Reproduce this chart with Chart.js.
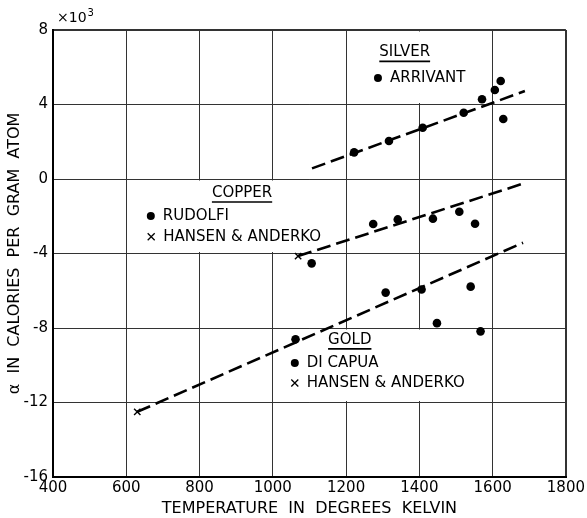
<!DOCTYPE html>
<html>
<head>
<meta charset="utf-8">
<script src="https://cdn.jsdelivr.net/npm/chart.js@4/dist/chart.umd.min.js"></script>
<style>
  html, body { margin: 0; padding: 0; background: #fff; }
  #wrap { width: 587px; height: 518px; }
</style>
</head>
<body>
<div id="wrap"><canvas id="chart" width="587" height="518"></canvas></div>
<script>
// values (alpha in units of 10^3 cal per gram atom)
const silverT = [1222, 1317, 1409, 1521, 1571, 1606, 1622, 1629];
const silverA = [1.43, 2.04, 2.75, 3.56, 4.28, 4.78, 5.26, 3.22];

const copperT = [1106, 1274, 1341, 1437, 1509, 1552];
const copperA = [-4.53, -2.42, -2.17, -2.13, -1.76, -2.40];
const copperHansenT = [1069];
const copperHansenA = [-4.14];

const goldT = [1062, 1308, 1406, 1448, 1540, 1567];
const goldA = [-8.6, -6.1, -5.93, -7.74, -5.78, -8.18];
const goldHansenT = [630];
const goldHansenA = [-12.5];

// dashed fit lines (end points)
const silverFitT = [1107, 1688];
const silverFitA = [0.57, 4.72];
const copperFitT = [1069, 1686];
const copperFitA = [-4.14, -0.23];
const goldFitT = [630, 1683];
const goldFitA = [-12.5, -3.42];

const xTicks = [400, 600, 800, 1000, 1200, 1400, 1600, 1800];
const yTicks = [-16, -12, -8, -4, 0, 4, 8];

const INK = '#000';
const FONT = "'DejaVu Sans', sans-serif";

const pts = (xs, ys) => xs.map((x, i) => ({ x: x, y: ys[i] }));

function dots(xs, ys) {
  return {
    data: pts(xs, ys), showLine: false,
    pointStyle: 'circle', pointRadius: 4.3, pointBackgroundColor: INK,
    pointBorderColor: INK, pointBorderWidth: 0
  };
}
function crosses(xs, ys) {
  return {
    data: pts(xs, ys), showLine: false,
    pointStyle: 'crossRot', pointRadius: 4.5, pointBorderColor: INK,
    pointBorderWidth: 1.4
  };
}
function fit(xs, ys) {
  return {
    data: pts(xs, ys), showLine: true, borderColor: INK, borderWidth: 2.6,
    borderDash: [14, 6], pointRadius: 0, fill: false
  };
}

// white boxes behind the labels, in data units
const boxes = [
  { x0: 1250, x1: 1560, y0: 4, y1: 8 },
  { x0: 615, x1: 1062, y0: -4, y1: 0 },
  { x0: 1085, x1: 1590, y0: -12, y1: -8 }
];

// label blocks: heading + entries
const notes = [
  { head: 'SILVER', hx: 1360, hy: 6.8,
    rows: [{ m: 'dot', x: 1287, y: 5.42, t: 'ARRIVANT' }] },
  { head: 'COPPER', hx: 916, hy: -0.75,
    rows: [{ m: 'dot', x: 667, y: -1.99, t: 'RUDOLFI' },
           { m: 'x', x: 668, y: -3.1, t: 'HANSEN & ANDERKO' }] },
  { head: 'GOLD', hx: 1210, hy: -8.64,
    rows: [{ m: 'dot', x: 1060, y: -9.88, t: 'DI CAPUA' },
           { m: 'x', x: 1060, y: -10.95, t: 'HANSEN & ANDERKO' }] }
];

const notesPlugin = {
  id: 'notes',
  beforeDatasetsDraw(chart) {
    const c = chart.ctx, sx = chart.scales.x, sy = chart.scales.y;
    c.save();
    c.fillStyle = '#fff';
    boxes.forEach(b => {
      const l = sx.getPixelForValue(b.x0), r = sx.getPixelForValue(b.x1);
      const t = sy.getPixelForValue(b.y1) + 1.5, btm = sy.getPixelForValue(b.y0) - 1.5;
      c.fillRect(l, t, r - l, btm - t);
    });
    c.restore();
  },
  afterDatasetsDraw(chart) {
    const c = chart.ctx, sx = chart.scales.x, sy = chart.scales.y;
    c.save();
    c.fillStyle = INK;
    c.strokeStyle = INK;
    c.font = '15px ' + FONT;
    c.textBaseline = 'middle';
    notes.forEach(n => {
      const hx = sx.getPixelForValue(n.hx), hy = sy.getPixelForValue(n.hy);
      c.textAlign = 'center';
      c.fillText(n.head, hx, hy);
      const w = c.measureText(n.head).width;
      c.lineWidth = 1.6;
      c.beginPath();
      c.moveTo(hx - w / 2, hy + 9);
      c.lineTo(hx + w / 2, hy + 9);
      c.stroke();
      c.textAlign = 'left';
      n.rows.forEach(r => {
        const px = sx.getPixelForValue(r.x), py = sy.getPixelForValue(r.y);
        if (r.m === 'dot') {
          c.beginPath();
          c.arc(px, py, 4, 0, Math.PI * 2);
          c.fill();
        } else {
          c.lineWidth = 1.3;
          c.beginPath();
          c.moveTo(px - 3.5, py - 3.5); c.lineTo(px + 3.5, py + 3.5);
          c.moveTo(px + 3.5, py - 3.5); c.lineTo(px - 3.5, py + 3.5);
          c.stroke();
        }
        c.fillText(r.t, px + 12, py);
      });
    });
    // x10^3 multiplier above the y axis
    const ax = chart.chartArea.left + 4, ay = chart.chartArea.top - 12;
    c.font = '14px ' + FONT;
    c.textAlign = 'left';
    c.fillText('\u00d710', ax, ay);
    const w10 = c.measureText('\u00d710').width;
    c.font = '10px ' + FONT;
    c.fillText('3', ax + w10 + 1, ay - 5);
    c.restore();
  }
};

const edge = v => (v === 8 || v === -16 || v === 400 || v === 1800) ? 2 : 1;

new Chart(document.getElementById('chart').getContext('2d'), {
  type: 'scatter',
  data: {
    datasets: [
      fit(silverFitT, silverFitA),
      fit(copperFitT, copperFitA),
      fit(goldFitT, goldFitA),
      dots(silverT, silverA),
      dots(copperT, copperA),
      crosses(copperHansenT, copperHansenA),
      dots(goldT, goldA),
      crosses(goldHansenT, goldHansenA)
    ]
  },
  options: {
    responsive: false,
    animation: false,
    layout: { padding: { top: 30, right: 19, left: 0, bottom: 0 } },
    plugins: { legend: { display: false }, tooltip: { enabled: false } },
    scales: {
      x: {
        type: 'linear', min: 400, max: 1800,
        afterBuildTicks: s => { s.ticks = xTicks.map(v => ({ value: v })); },
        afterFit: s => { s.height = 41; },
        grid: { color: '#333', lineWidth: ctx => edge(ctx.tick.value), drawTicks: false },
        border: { color: INK, width: 2 },
        ticks: { color: INK, font: { family: FONT, size: 15 }, padding: 2, maxRotation: 0,
                 callback: v => String(v) },
        title: { display: true, text: 'TEMPERATURE  IN  DEGREES  KELVIN', color: INK,
                 font: { family: FONT, size: 16 }, padding: { top: 0, bottom: 0 } }
      },
      y: {
        type: 'linear', min: -16, max: 8,
        afterBuildTicks: s => { s.ticks = yTicks.map(v => ({ value: v })); },
        afterFit: s => { s.width = 53; },
        grid: { color: '#333', lineWidth: ctx => edge(ctx.tick.value), drawTicks: false },
        border: { color: INK, width: 2 },
        ticks: { color: INK, font: { family: FONT, size: 15 }, padding: 5,
                 callback: v => String(v) },
        title: { display: true, text: '\u03b1  IN  CALORIES  PER  GRAM  ATOM', color: INK,
                 font: { family: FONT, size: 16 }, padding: { top: 5, bottom: 0 } }
      }
    }
  },
  plugins: [notesPlugin]
});
</script>
</body>
</html>
